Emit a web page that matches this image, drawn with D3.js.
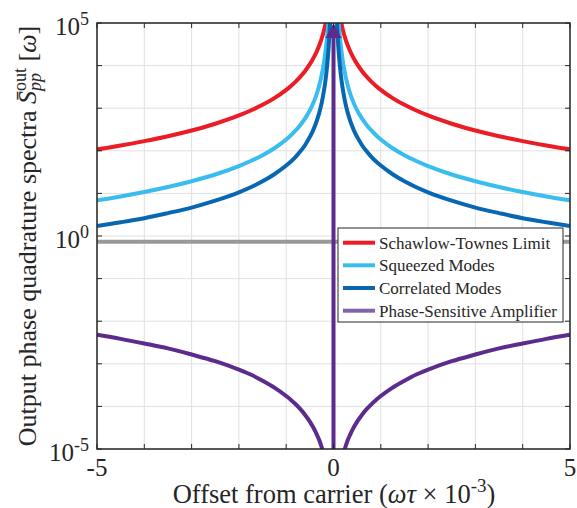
<!DOCTYPE html>
<html>
<head>
<meta charset="utf-8">
<script src="https://cdn.jsdelivr.net/npm/d3@7"></script>
<style>
  html, body { margin: 0; padding: 0; background: #fff; }
  svg { display: block; }
  text { font-family: "Liberation Serif", "Times New Roman", serif; fill: #262626; }
</style>
</head>
<body>
<svg id="chart" width="577" height="508"></svg>
<script>
// ---- data (curves are mirror-symmetric about 0) ----
const offsets = [-5,-4.5,-4,-3.5,-3,-2.5,-2,-1.75,-1.5,-1.25,-1,-0.9,-0.8,-0.7,-0.6,-0.5,-0.45,-0.4,-0.35,-0.3,-0.25,-0.2,-0.17,-0.15,-0.12,-0.1,-0.07,0,
                 0.07,0.1,0.12,0.15,0.17,0.2,0.25,0.3,0.35,0.4,0.45,0.5,0.6,0.7,0.8,0.9,1,1.25,1.5,1.75,2,2.5,3,3.5,4,4.5,5];
const schawlowTownes = [108,133,169,220,300,432,675,882,1200,1728,2700,3333,4219,5510,7500,10800,13333,16875,22040,30000,43200,67500,93400,120000,187500,270000,551000,null,
                        551000,270000,187500,120000,93400,67500,43200,30000,22040,16875,13333,10800,7500,5510,4219,3333,2700,1728,1200,882,675,432,300,220,169,133,108];
const squeezedModes = [6.9,8.5,10.8,14.1,19.3,27.8,43.8,57.5,78.9,115,185,232,300,404,575,890,1156,1567,2244,3467,5978,12175,21040,32530,72700,143200,559900,null,
                       559900,143200,72700,32530,21040,12175,5978,3467,2244,1567,1156,890,575,404,300,232,185,115,78.9,57.5,43.8,27.8,19.3,14.1,10.8,8.5,6.9];
const correlatedModes = [1.72,2.1,2.62,3.45,4.65,6.75,10.6,13.9,19.2,28.2,45,56,72,97,137,212,270,367,520,787,1330,2640,4480,6850,15050,29300,113000,null,
                         113000,29300,15050,6850,4480,2640,1330,787,520,367,270,212,137,97,72,56,45,28.2,19.2,13.9,10.6,6.75,4.65,3.45,2.62,2.1,1.72];
const phaseSensitive = [4.8e-3,3.85e-3,3.0e-3,2.3e-3,1.65e-3,1.15e-3,7.3e-4,5.6e-4,4.0e-4,2.75e-4,1.75e-4,1.42e-4,1.12e-4,8.6e-5,6.3e-5,4.4e-5,3.55e-5,2.8e-5,2.15e-5,1.6e-5,1.1e-5,7.2e-6,5.2e-6,4e-6,2.6e-6,1.8e-6,8.8e-7,null,
                        8.8e-7,1.8e-6,2.6e-6,4e-6,5.2e-6,7.2e-6,1.1e-5,1.6e-5,2.15e-5,2.8e-5,3.55e-5,4.4e-5,6.3e-5,8.6e-5,1.12e-4,1.42e-4,1.75e-4,2.75e-4,4.0e-4,5.6e-4,7.3e-4,1.15e-3,1.65e-3,2.3e-3,3.0e-3,3.85e-3,4.8e-3];
const referenceX = [-5, 5];
const referenceLevel = [0.73, 0.73];
const spikeX = 0;
const spikeRange = [1e-5, 1e5];

const legendLabels = ["Schawlow-Townes Limit", "Squeezed Modes", "Correlated Modes", "Phase-Sensitive Amplifier"];
const xTickValues = [-5,-4,-3,-2,-1,0,1,2,3,4,5];
const xTickLabels = {"-5": "-5", "0": "0", "5": "5"};
const yTickExps = [-5,-4,-3,-2,-1,0,1,2,3,4,5];
const yLabelExps = [5, 0, -5];

// ---- layout ----
const L = 97, R = 570, T = 23, B = 449;
const colors = { red: "#EC1C24", light: "#38BDEE", dark: "#0867B3", gray: "#999999", purple: "#5B2B8E", legendPurple: "#8066A9" };

const svg = d3.select("#chart");
const x = d3.scaleLinear().domain([-5, 5]).range([L, R]);
const y = d3.scaleLog().domain([1e-5, 1e5]).range([B, T]);

// grid
const grid = svg.append("g");
xTickValues.forEach(v => {
  grid.append("line").attr("x1", x(v)).attr("x2", x(v)).attr("y1", T).attr("y2", B)
    .attr("stroke", "#e0e0e0").attr("stroke-width", 1);
});
yTickExps.forEach(e => {
  grid.append("line").attr("x1", L).attr("x2", R).attr("y1", y(Math.pow(10, e))).attr("y2", y(Math.pow(10, e)))
    .attr("stroke", "#e0e0e0").attr("stroke-width", 1);
});

svg.append("defs").append("clipPath").attr("id", "clip")
  .append("rect").attr("x", L).attr("y", T).attr("width", R - L).attr("height", B - T);

const plot = svg.append("g").attr("clip-path", "url(#clip)");

const line = d3.line()
  .defined(d => d[1] != null)
  .x(d => x(d[0]))
  .y(d => y(d[1]))
  .curve(d3.curveMonotoneX);

function series(vals) { return offsets.map((o, i) => [o, vals[i]]); }

// gray reference level
plot.append("path").datum(referenceX.map((v, i) => [v, referenceLevel[i]]))
  .attr("d", line).attr("fill", "none").attr("stroke", colors.gray).attr("stroke-width", 4);

plot.append("path").datum(series(phaseSensitive)).attr("d", line)
  .attr("fill", "none").attr("stroke", colors.purple).attr("stroke-width", 4);
plot.append("path").datum(series(schawlowTownes)).attr("d", line)
  .attr("fill", "none").attr("stroke", colors.red).attr("stroke-width", 4);
plot.append("path").datum(series(squeezedModes)).attr("d", line)
  .attr("fill", "none").attr("stroke", colors.light).attr("stroke-width", 4);
plot.append("path").datum(series(correlatedModes)).attr("d", line)
  .attr("fill", "none").attr("stroke", colors.dark).attr("stroke-width", 4);

// spike with arrow
const sx = x(spikeX), sTop = y(spikeRange[1]), sBot = y(spikeRange[0]);
plot.append("line").attr("x1", sx).attr("x2", sx).attr("y1", sBot).attr("y2", sTop + 10)
  .attr("stroke", colors.purple).attr("stroke-width", 4);
svg.append("path")
  .attr("d", `M${sx - 8},${sTop + 15} L${sx},${sTop} L${sx + 8},${sTop + 15} Z`)
  .attr("fill", colors.purple);

// axes box and ticks
const axis = svg.append("g").attr("stroke", "#262626");
axis.append("rect").attr("x", L).attr("y", T).attr("width", R - L).attr("height", B - T)
  .attr("fill", "none").attr("stroke-width", 1.5);
yTickExps.forEach(e => {
  const yy = y(Math.pow(10, e));
  axis.append("line").attr("x1", L).attr("x2", L + 5).attr("y1", yy).attr("y2", yy).attr("stroke-width", 1);
  axis.append("line").attr("x1", R).attr("x2", R - 5).attr("y1", yy).attr("y2", yy).attr("stroke-width", 1);
});
xTickValues.forEach(v => {
  axis.append("line").attr("x1", x(v)).attr("x2", x(v)).attr("y1", B).attr("y2", B - 5).attr("stroke-width", 1);
  axis.append("line").attr("x1", x(v)).attr("x2", x(v)).attr("y1", T).attr("y2", T + 5).attr("stroke-width", 1);
});

// tick labels
Object.keys(xTickLabels).forEach(k => {
  svg.append("text").attr("x", x(+k)).attr("y", 475.5).attr("text-anchor", "middle")
    .attr("font-size", 25).text(xTickLabels[k]);
});
yLabelExps.forEach(e => {
  const t = svg.append("text").attr("x", 89).attr("y", y(Math.pow(10, e)) + 12)
    .attr("text-anchor", "end").attr("font-size", 25);
  t.append("tspan").text("10");
  t.append("tspan").attr("dy", -10).attr("font-size", 18).text(e < 0 ? "-" + (-e) : String(e));
});

// x label
const xl = svg.append("text").attr("x", 334).attr("y", 503).attr("text-anchor", "middle").attr("font-size", 26.5);
xl.append("tspan").text("Offset from carrier (");
xl.append("tspan").attr("font-style", "italic").text("ωτ");
xl.append("tspan").text(" × 10");
xl.append("tspan").attr("dy", -11).attr("font-size", 19).text("-3");
xl.append("tspan").attr("dy", 11).text(")");

// y label
const yl = svg.append("text").attr("transform", `translate(36,${(T + B) / 2}) rotate(-90)`)
  .attr("text-anchor", "middle").attr("font-size", 26);
yl.append("tspan").text("Output phase quadrature spectra ");
yl.append("tspan").attr("font-style", "italic").text("S\u0304");
yl.append("tspan").attr("font-style", "italic").attr("font-size", 18).attr("dy", 5).text("pp");
yl.append("tspan").attr("font-size", 18).attr("dx", -18).attr("dy", -15).text("out");
yl.append("tspan").attr("dy", 10).text(" [");
yl.append("tspan").attr("font-style", "italic").text("ω");
yl.append("tspan").text("]");

// legend
const lg = svg.append("g");
lg.append("rect").attr("x", 338).attr("y", 228).attr("width", 225).attr("height", 94)
  .attr("fill", "#fff").attr("stroke", "#262626").attr("stroke-width", 1);
const legendColors = [colors.red, colors.light, colors.dark, colors.legendPurple];
const legendY = [242.7, 265.3, 288, 310.7];
legendLabels.forEach((lab, i) => {
  lg.append("line").attr("x1", 343).attr("x2", 375).attr("y1", legendY[i]).attr("y2", legendY[i])
    .attr("stroke", legendColors[i]).attr("stroke-width", 4);
  lg.append("text").attr("x", 379).attr("y", legendY[i] + 6).attr("font-size", 17).text(lab);
});
</script>
</body>
</html>
